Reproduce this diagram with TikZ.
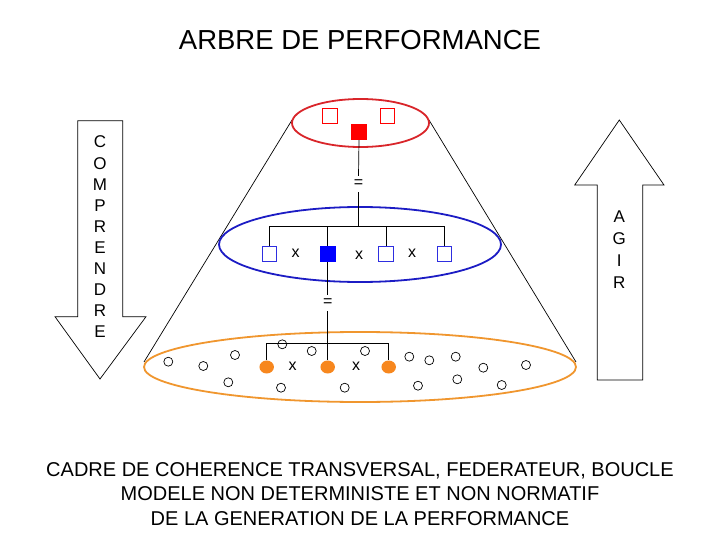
\documentclass[tikz,border=0pt]{standalone}
\usepackage{fontspec}
\setmainfont{Liberation Sans}
\definecolor{topred}{HTML}{D9252A}
\definecolor{midblue}{HTML}{1C1CC4}
\definecolor{lowornge}{HTML}{F0962E}
\definecolor{dotorange}{HTML}{F7871E}
\definecolor{boxblue}{HTML}{2E2EE0}
\usetikzlibrary{shapes,arrows.meta,positioning,calc}

\begin{document}
\begin{tikzpicture}[x=1pt,y=-1pt,
    lvl/.style={ellipse,draw,line width=1.8pt,inner sep=0pt},
    sqopen/.style={draw,rectangle,minimum size=14.5pt,inner sep=0pt,line width=0.8pt},
    sqfull/.style={sqopen,minimum size=15.5pt},
    leaf/.style={draw,circle,minimum size=9pt,inner sep=0pt,line width=0.7pt},
    hub/.style={fill=dotorange,ellipse,minimum width=14.5pt,minimum height=13pt,inner sep=0pt},
    op/.style={font=\fontsize{16}{18}\selectfont,inner sep=1pt},
    eqsign/.style={op,inner ysep=4pt}]
  \useasboundingbox (0,0) rectangle (720,540);
  % title
  \node[font=\fontsize{27.5}{30}\selectfont] (title) at (360,40) {ARBRE DE PERFORMANCE};
  % cone sides
  \draw[line width=0.7pt] (292,120) -- (144,362);
  \draw[line width=0.7pt] (429,120) -- (576,362);
  % levels
  \node[lvl,draw=topred,fill=white,minimum width=137pt,minimum height=48pt] (top) at (360.5,123) {};
  \node[lvl,draw=midblue,fill=white,minimum width=282pt,minimum height=75pt] (mid) at (360,244.5) {};
  \node[lvl,draw=lowornge,fill=white,minimum width=432pt,minimum height=70pt] (low) at (360,367) {};
  % top level
  \node[sqopen,draw=red] (ta) at (330,116) {};
  \node[sqopen,draw=red] (tb) at (387.5,116) {};
  \node[sqfull,draw=red,fill=red] (tc) at (359,132) {};
  \node[eqsign] (eqa) at (358.5,184) {=};
  % middle level
  \node[sqopen,draw=boxblue] (ma) at (269.5,254) {};
  \node[sqfull,draw=blue,fill=blue] (mb) at (327.7,254) {};
  \node[sqopen,draw=boxblue] (mc) at (386,254) {};
  \node[sqopen,draw=boxblue] (md) at (444.5,254) {};
  \node[op] (xa) at (295.7,253) {x};
  \node[op] (xb) at (359,255) {x};
  \node[op] (xc) at (412,253) {x};
  \coordinate (mj) at (358.5,226.7);
  \node[eqsign] (eqb) at (327.7,303) {=};
  % low level
  \node[hub] (la) at (266.7,367) {};
  \node[hub] (lb) at (327.7,367) {};
  \node[hub] (lc) at (388.7,367) {};
  \node[op] (xd) at (292.7,366) {x};
  \node[op] (xe) at (356,366) {x};
  \coordinate (lj) at (327.7,343.3);
  \foreach \px/\py [count=\i] in {168.3/361.7, 203.3/366, 235/355, 282.3/344.3, 311.7/351,
      365/351, 409.3/356.7, 429.3/360.3, 455.7/356.7, 483.3/367.7, 526/365,
      228.3/382.3, 281/387.7, 344.7/387.7, 418/385.7, 457.3/379.3, 501.7/385}
    \node[leaf] (c\i) at (\px,\py) {};
  % tree links
  \draw[line width=0.7pt] (tc.south) -- (eqa.north);
  \draw[line width=0.7pt] (eqa.south) -- (mj);
  \draw[line width=0.7pt] (ma.north) |- (mj) -| (md.north);
  \draw[line width=0.7pt] (mb.north) -- (mb.north |- mj);
  \draw[line width=0.7pt] (mc.north) -- (mc.north |- mj);
  \draw[line width=0.7pt] (mb.south) -- (eqb.north);
  \draw[line width=0.7pt] (eqb.south) -- (lj);
  \draw[line width=0.7pt] (la.north) |- (lj) -| (lc.north);
  \draw[line width=0.7pt] (lb.north) -- (lj);
  % arrows
  \draw[line width=0.7pt] (77.7,120.7) -- (122.7,120.7) -- (122.7,316.7) -- (146,316.7)
    -- (100,379) -- (55,316.7) -- (77.7,316.7) -- cycle;
  \node[align=center,font=\fontsize{17}{21.1}\selectfont] (comp) at (100,237)
    {C\\O\\M\\P\\R\\E\\N\\D\\R\\E};
  \draw[line width=0.7pt] (597.3,380) -- (597.3,185) -- (574.7,185) -- (619.3,120)
    -- (664,185) -- (642.7,185) -- (642.7,380) -- cycle;
  \node[align=center,font=\fontsize{17}{22}\selectfont] (agir) at (619.3,250)
    {A\\G\\I\\R};
  % caption
  \node[align=center,font=\fontsize{20}{24.5}\selectfont] (caption) at (360,494)
    {CADRE DE COHERENCE TRANSVERSAL, FEDERATEUR, BOUCLE\\
     MODELE NON DETERMINISTE ET NON NORMATIF\\
     DE LA GENERATION DE LA PERFORMANCE};
\end{tikzpicture}
\end{document}
